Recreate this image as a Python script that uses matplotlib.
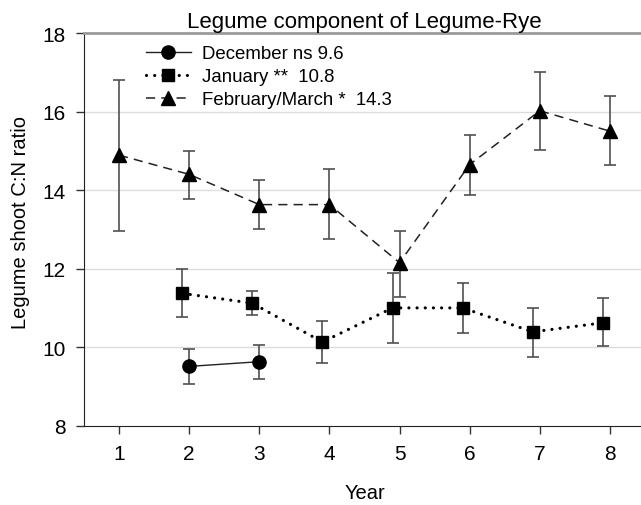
import matplotlib
matplotlib.use("Agg")
import matplotlib.pyplot as plt
import numpy as np

plt.rcParams['font.family'] = ['Liberation Sans', 'DejaVu Sans']

# ---- data ----
dec_years = [2, 3]
dec_vals = [9.51, 9.63]
dec_lo = [9.05, 9.19]
dec_hi = [9.95, 10.06]

jan_years = [2, 3, 4, 5, 6, 7, 8]
jan_vals = [11.37, 11.12, 10.13, 11.0, 11.0, 10.39, 10.62]
jan_lo = [10.76, 10.83, 9.59, 10.11, 10.37, 9.76, 10.02]
jan_hi = [12.0, 11.43, 10.66, 11.88, 11.63, 11.0, 11.25]

feb_years = [1, 2, 3, 4, 5, 6, 7, 8]
feb_vals = [14.89, 14.4, 13.63, 13.63, 12.15, 14.65, 16.02, 15.5]
feb_lo = [12.96, 13.77, 13.0, 12.75, 11.29, 13.87, 15.02, 14.63]
feb_hi = [16.8, 15.0, 14.25, 14.53, 12.96, 15.4, 17.0, 16.4]

labels = ["December ns 9.6", "January **  10.8", "February/March *  14.3"]
xticks = [1, 2, 3, 4, 5, 6, 7, 8]
yticks = [8, 10, 12, 14, 16, 18]

# small horizontal dodge used by the January series in the original figure
JAN_DODGE = -0.1

fig = plt.figure(figsize=(6.41, 5.06), dpi=100)
ax = fig.add_axes([84/641, 1 - 426.7/506, (645 - 84)/641, (426.7 - 34)/506])

for g in [10, 12, 14, 16]:
    ax.axhline(g, color='#dcdcdc', lw=1.0, zorder=0)

ecol = '#505050'

def eb(xs, v, lo, hi):
    v = np.array(v); lo = np.array(lo); hi = np.array(hi)
    ax.errorbar(xs, v, yerr=[v - lo, hi - v], fmt='none', ecolor=ecol,
                elinewidth=1.2, capsize=4, capthick=1.2, zorder=2)

jan_x = np.array(jan_years) + JAN_DODGE

eb(feb_years, feb_vals, feb_lo, feb_hi)
eb(jan_x, jan_vals, jan_lo, jan_hi)
eb(dec_years, dec_vals, dec_lo, dec_hi)

ax.plot(dec_years, dec_vals, color='#222222', lw=1.0, ls='-', marker='o',
        markersize=9.5, markerfacecolor='black', markeredgecolor='black',
        label=labels[0], zorder=3)
ax.plot(jan_x, jan_vals, color='black', lw=2.3, ls=(0, (0.01, 2.55)),
        dash_capstyle='round', marker='s', markersize=8.7,
        markerfacecolor='black', markeredgecolor='black',
        label=labels[1], zorder=3)
ax.plot(feb_years, feb_vals, color='#222222', lw=1.1, ls=(0, (6, 4)),
        marker='^', markersize=10.5, markerfacecolor='black',
        markeredgecolor='black', label=labels[2], zorder=3)

ax.set_xlim(0.5, 8.5)
ax.set_ylim(8, 18)
ax.set_xticks(xticks)
ax.set_yticks(yticks)
ax.tick_params(axis='both', direction='out', length=6, width=1,
               labelsize=15, color='#333333', pad=7)

ax.spines['right'].set_visible(False)
ax.spines['top'].set_color('#9a9a9a')
ax.spines['top'].set_linewidth(2.0)
ax.spines['left'].set_color('#222222')
ax.spines['bottom'].set_color('#222222')

ax.set_title("Legume component of Legume-Rye", fontsize=16, pad=4)
ax.set_ylabel("Legume shoot C:N ratio", fontsize=14.5, va='center')
ax.yaxis.set_label_coords(-0.114, 0.52)
ax.set_xlabel("Year", fontsize=14.5, va='center')
ax.xaxis.set_label_coords(0.5, -0.171)

leg = ax.legend(loc='upper left', bbox_to_anchor=(0.11, 0.969), frameon=False,
                fontsize=13.4, handlelength=2.43, handletextpad=0.57,
                labelspacing=0.32, borderpad=0, borderaxespad=0)

fig.savefig("out.png", dpi=100)
